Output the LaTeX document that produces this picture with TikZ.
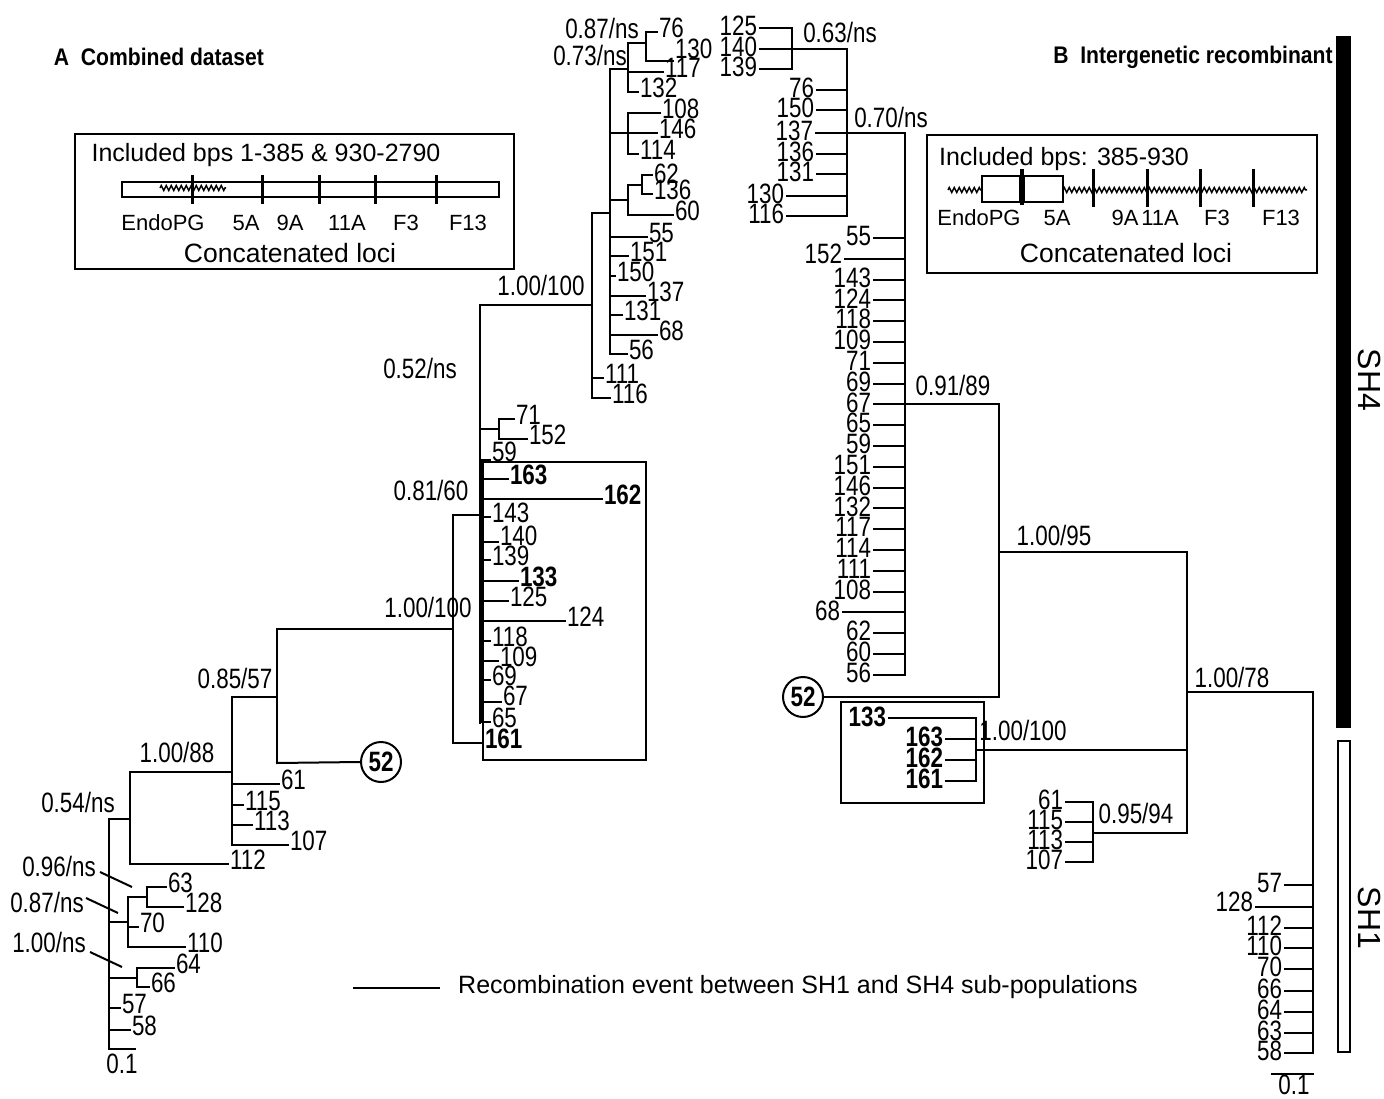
\documentclass[tikz,border=0pt]{standalone}
\usepackage{fontspec}
\setmainfont{Liberation Sans}
\newfontfamily\lab[FakeStretch=0.8]{Liberation Sans}
\newfontfamily\hfnt[FakeStretch=0.88]{Liberation Sans}
\usetikzlibrary{decorations.pathmorphing}
\tikzset{
 br/.style={line width=2pt, line cap=rect},
 lf/.style={font={\lab\fontsize{28}{30}\selectfont}},
 lfb/.style={font={\lab\bfseries\fontsize{28}{30}\selectfont}},
 tlabA/.style={lf, anchor=west, inner sep=1pt, yshift=4pt},
 tlabB/.style={lf, anchor=east, inner sep=2pt, yshift=2pt},
 ilab/.style={lf, inner sep=0pt},
 boxtxt/.style={font={\fontsize{25}{28}\selectfont}, inner sep=0pt},
 loctxt/.style={font={\fontsize{22}{24}\selectfont}, inner sep=0pt},
 hdr/.style={font={\hfnt\bfseries\fontsize{24}{26}\selectfont}, inner sep=0pt},
 zz/.style={line width=1.5pt, decorate, decoration={zigzag, segment length=5pt, amplitude=2.5pt}},
 tick/.style={line width=3pt},
 circ/.style={draw, circle, line width=2pt, minimum size=40pt, inner sep=0pt, lfb},
}
\newcommand\ta[5][]{\draw[br] (#2,#4)--(#3,#4) node[tlabA,#1] (A#5) {#5};}
\newcommand\tab[5][]{\draw[br] (#2,#4)--(#3,#4) node[tlabA,lfb,#1] (A#5) {#5};}
\newcommand\tb[5][]{\draw[br] (#3,#4)--(#2,#4) node[tlabB,#1] (B#5) {#5};}
\newcommand\tbb[5][]{\draw[br] (#3,#4)--(#2,#4) node[tlabB,lfb,#1] (B#5) {#5};}
\begin{document}
\begin{tikzpicture}[x=1pt,y=-1pt]
\useasboundingbox (0,0) rectangle (1384,1099);
\fill[white] (0,0) rectangle (1384,1099);
% ---------------- headers
\node[hdr] (hA) at (159,57) {A\ \ Combined dataset};
\node[hdr] (hB) at (1193,57) {B\ \ Intergenetic recombinant};
% ---------------- inset A
\draw[line width=2pt] (75,134) rectangle (514,269);
\node[boxtxt] (inA) at (266,155) {Included bps 1-385 \& 930-2790};
\draw[line width=1.5pt] (122,182) rectangle (499,197);
\draw[zz] (160,188)--(226,188);
\foreach \x in {192,262,319,375,436} \draw[tick] (\x,175)--(\x,204);
\node[loctxt] (lA1) at (163,223) {EndoPG};
\node[loctxt] (lA2) at (246,223) {5A};
\node[loctxt] (lA3) at (290,223) {9A};
\node[loctxt] (lA4) at (347,223) {11A};
\node[loctxt] (lA5) at (406,223) {F3};
\node[loctxt] (lA6) at (468,223) {F13};
\node[font={\fontsize{26.5}{28}\selectfont}, inner sep=0pt] (cA) at (290,253) {Concatenated loci};
% ---------------- inset B
\draw[line width=2pt] (927,135) rectangle (1317,273);
\node[boxtxt] (inB) at (1064,159) {Included bps: 385-930};
\draw[zz] (948,190)--(982,190);
\draw[line width=1.5pt] (982,176) rectangle (1020,202) (1024,176) rectangle (1063,202);
\draw[zz] (1063,190)--(1307,190);
\draw[line width=4pt] (1022,169)--(1022,205);
\foreach \x in {1093,1147,1200,1253} \draw[tick] (\x,169)--(\x,207);
\node[loctxt] (lB1) at (979,218) {EndoPG};
\node[loctxt] (lB2) at (1057,218) {5A};
\node[loctxt] (lB3) at (1125,218) {9A};
\node[loctxt] (lB4) at (1160,218) {11A};
\node[loctxt] (lB5) at (1217,218) {F3};
\node[loctxt] (lB6) at (1281,218) {F13};
\node[font={\fontsize{26.5}{28}\selectfont}, inner sep=0pt] (cB) at (1126,253) {Concatenated loci};
% ================= TREE A
% top clade
\draw[br] (646,32)--(646,61) (628,43)--(646,43);
\ta{646}{657}{32}{76}
\ta[yshift=8pt]{646}{673}{61}{130}
\draw[br] (628,43)--(628,92) (610,69)--(628,69);
\ta{628}{663}{72}{117}
\ta{628}{638}{92}{132}
\draw[br] (628,113)--(628,154) (610,133)--(628,133);
\ta{628}{660}{113}{108}
\ta{628}{657}{133}{146}
\ta{628}{638}{154}{114}
\draw[br] (642,175)--(642,194) (628,185)--(642,185);
\ta[yshift=-3pt]{642}{652}{175}{62}
\ta{642}{652}{194}{136}
\draw[br] (628,185)--(628,215) (610,200)--(628,200);
\ta{628}{673}{215}{60}
\ta{610}{647}{237}{55}
\ta{610}{628}{256}{151}
\ta{610}{615}{276}{150}
\ta{610}{645}{296}{137}
\ta{610}{622}{315}{131}
\ta{610}{657}{335}{68}
\ta{610}{627}{354}{56}
\draw[br] (610,69)--(610,354);
\draw[br] (592,213)--(592,398) (592,213)--(610,213);
\ta{592}{603}{378}{111}
\ta{592}{610}{398}{116}
\node[ilab] (s087a) at (602,28) {0.87/ns};
\node[ilab] (s073a) at (590,55) {0.73/ns};
\node[ilab] (s100a) at (541,285) {1.00/100};
% node Y
\draw[br] (480,305)--(592,305) (480,305)--(480,723);
\node[ilab] (s052a) at (420,368) {0.52/ns};
\draw[br] (499,419)--(499,439) (480,429)--(499,429);
\ta{499}{514}{419}{71}
\ta{499}{527}{439}{152}
\ta[yshift=4pt]{480}{490}{460}{59}
\tab{480}{508}{479}{163}
\tab{480}{602}{499}{162}
\ta{480}{490}{517}{143}
\ta[yshift=2pt]{480}{498}{542}{140}
\ta{480}{490}{560}{139}
\tab{480}{518}{581}{133}
\ta{480}{508}{601}{125}
\ta{480}{565}{621}{124}
\ta{480}{490}{641}{118}
\ta{480}{498}{661}{109}
\ta{480}{490}{680}{69}
\ta[yshift=2pt]{480}{501}{702}{67}
\ta{480}{490}{722}{65}
\draw[line width=4.5pt] (481,460)--(481,723);
% node X
\draw[br] (453,515)--(453,743) (453,515)--(480,515);
\tab{453}{483}{743}{161}
\node[ilab] (s081a) at (431,490) {0.81/60};
\draw[line width=2pt] (483,462) rectangle (646,760);
% lower
\draw[br] (277,629)--(453,629) (277,629)--(277,763);
\node[ilab] (s100b) at (428,607) {1.00/100};
\node[circ] (A52) at (381,762) {52};
\draw[br] (277,763)--(A52.west);
\draw[br] (232,697)--(277,697) (232,697)--(232,845);
\node[ilab] (s085a) at (235,678) {0.85/57};
\ta{232}{279}{784}{61}
\ta{232}{243}{805}{115}
\ta{232}{252}{825}{113}
\ta{232}{288}{845}{107}
\draw[br] (130,772)--(232,772) (130,772)--(130,864);
\node[ilab] (s100c) at (177,752) {1.00/88};
\ta{130}{228}{864}{112}
\draw[br] (109,819)--(130,819);
\node[ilab] (s054a) at (78,802) {0.54/ns};
\draw[br] (109,819)--(109,1049);
\draw[br] (147,887)--(147,907) (128,897)--(147,897);
\ta{147}{166}{887}{63}
\ta{147}{183}{907}{128}
\draw[br] (128,897)--(128,947) (109,922)--(128,922);
\ta{128}{138}{927}{70}
\ta{128}{185}{947}{110}
\draw[br] (137,968)--(137,987) (109,978)--(137,978);
\ta{137}{174}{968}{64}
\ta{137}{149}{987}{66}
\ta{109}{120}{1008}{57}
\ta{109}{130}{1030}{58}
\draw[br] (109,1049)--(135,1049);
\node[ilab] (scA) at (122,1064) {0.1};
\node[ilab] (s096a) at (59,866) {0.96/ns};
\node[ilab] (s087b) at (47,902) {0.87/ns};
\node[ilab] (s100d) at (49,942) {1.00/ns};
\draw[line width=2pt] (100,872)--(132,887);
\draw[line width=2pt] (86,898)--(118,913);
\draw[line width=2pt] (90,952)--(122,967);
% legend
\coordinate (lg1) at (353,988);
\coordinate (lg2) at (440,988);
\draw[line width=2.5pt] (lg1)--(lg2);
\node[boxtxt, anchor=west] (lgt) at (458,987) {Recombination event between SH1 and SH4 sub-populations};
% ================= TREE B
\draw[br] (792,28)--(792,69);
\tb{760}{792}{28}{125}
\tb{760}{847}{49}{140}
\tb{760}{792}{69}{139}
\draw[br] (847,49)--(847,216);
\node[ilab] (s063b) at (840,32) {0.63/ns};
\tb{817}{847}{90}{76}
\tb{817}{847}{110}{150}
\tb{816}{905}{133}{137}
\tb{817}{847}{154}{136}
\tb{817}{847}{174}{131}
\tb{787}{847}{196}{130}
\tb{787}{847}{216}{116}
\node[ilab] (s070b) at (891,117) {0.70/ns};
\draw[br] (905,133)--(905,675);
\tb{874}{905}{238}{55}
\tb[yshift=3pt]{845}{905}{258.8}{152}
\tb{874}{905}{279.6}{143}
\tb{874}{905}{300.4}{124}
\tb{874}{905}{321.2}{118}
\tb{874}{905}{342}{109}
\tb{874}{905}{362.8}{71}
\tb{874}{905}{383.6}{69}
\tb{874}{999}{404.4}{67}
\tb{874}{905}{425.2}{65}
\tb{874}{905}{446}{59}
\tb{874}{905}{466.8}{151}
\tb{874}{905}{487.6}{146}
\tb{874}{905}{508.4}{132}
\tb{874}{905}{529.2}{117}
\tb{874}{905}{550}{114}
\tb{874}{905}{570.8}{111}
\tb{874}{905}{591.6}{108}
\tb{843}{905}{612.4}{68}
\tb{874}{905}{633.2}{62}
\tb{874}{905}{654}{60}
\tb{874}{905}{674.8}{56}
\node[ilab] (s091b) at (953,385) {0.91/89};
\draw[br] (999,404.4)--(999,697);
\node[circ] (B52) at (803,697) {52};
\draw[br] (B52.east)--(999,697);
\draw[br] (999,552)--(1187,552);
\node[ilab] (s100e) at (1054,535) {1.00/95};
\draw[br] (1187,552)--(1187,833);
\draw[br] (1187,692)--(1313,692);
\node[ilab] (s078b) at (1232,677) {1.00/78};
% box clade
\draw[br] (976,718)--(976,781) (976,750)--(1187,750);
\tbb[yshift=-1pt]{889}{976}{718}{133}
\tbb{946}{976}{739}{163}
\tbb{946}{976}{760}{162}
\tbb{946}{976}{781}{161}
\draw[line width=2pt] (841,702) rectangle (984,803);
\node[ilab] (s100f) at (1023,730) {1.00/100};
% 0.95/94
\draw[br] (1093,802)--(1093,862) (1093,833)--(1187,833);
\tb{1066}{1093}{802}{61}
\tb{1066}{1093}{822}{115}
\tb{1066}{1093}{842}{113}
\tb{1066}{1093}{862}{107}
\node[ilab] (s095b) at (1136,813) {0.95/94};
% root B
\draw[br] (1313,692)--(1313,1053);
\tb{1285}{1313}{885}{57}
\tb[yshift=3pt]{1256}{1313}{907}{128}
\tb{1285}{1313}{928}{112}
\tb{1285}{1313}{948}{110}
\tb{1285}{1313}{969}{70}
\tb{1285}{1313}{991}{66}
\tb{1285}{1313}{1012}{64}
\tb{1285}{1313}{1033}{63}
\tb{1285}{1313}{1053}{58}
\draw[br] (1272,1074)--(1313,1074);
\node[ilab] (scB) at (1294,1085) {0.1};
% SH bars
\fill[black] (1336,36) rectangle (1351,728);
\draw[line width=2pt] (1338,741) rectangle (1350,1052);
\node[font={\fontsize{32}{34}\selectfont}, rotate=-90, inner sep=0pt] (sh4) at (1369,380) {SH4};
\node[font={\fontsize{32}{34}\selectfont}, rotate=-90, inner sep=0pt] (sh1) at (1369,918) {SH1};
\end{tikzpicture}
\end{document}
